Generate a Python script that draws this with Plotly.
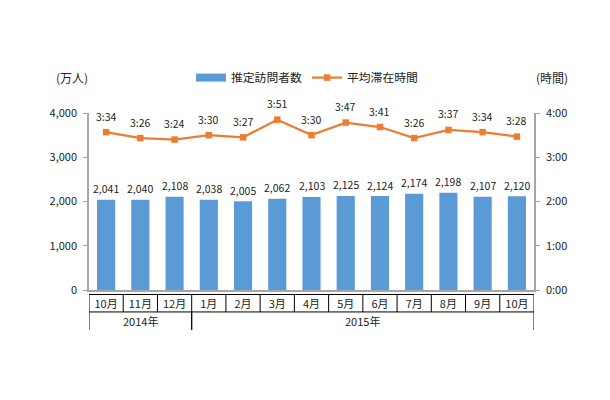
import plotly.graph_objects as go

months = ["10月", "11月", "12月", "1月", "2月", "3月", "4月", "5月", "6月", "7月", "8月", "9月", "10月"]
visitors = [2041, 2040, 2108, 2038, 2005, 2062, 2103, 2125, 2124, 2174, 2198, 2107, 2120]
stay = ["3:34", "3:26", "3:24", "3:30", "3:27", "3:51", "3:30", "3:47", "3:41", "3:26", "3:37", "3:34", "3:28"]
years = [("2014年", 0, 3), ("2015年", 3, 13)]
left_ticks = [0, 1000, 2000, 3000, 4000]
right_ticks = ["0:00", "1:00", "2:00", "3:00", "4:00"]

FONT = "Noto Sans CJK JP"
TXT = "#222222"
BLUE = "#5B9BD5"
ORANGE = "#ED7D31"
AXIS = "#A6A6A6"
PW, PH = 445, 177.5


def minutes(s):
    h, m = s.split(":")
    return int(h) * 60 + int(m)


idx = list(range(len(months)))
stay_min = [minutes(s) for s in stay]

fig = go.Figure()
fig.add_trace(go.Bar(
    x=idx, y=visitors, width=0.53, marker=dict(color=BLUE, line=dict(width=0)),
    showlegend=False,
))
fig.add_trace(go.Scatter(
    x=[None], y=[None], mode="lines", name="推定訪問者数",
    line=dict(color=BLUE, width=8),
))
fig.add_trace(go.Scatter(
    x=idx, y=stay_min, yaxis="y2", mode="lines+markers", name="平均滞在時間",
    line=dict(color=ORANGE, width=2.25),
    marker=dict(color=ORANGE, size=6.5, symbol="square"),
))

annotations = [
    dict(x=i, y=m, xref="x", yref="y2", text=s, showarrow=False, yshift=16,
         font=dict(size=10.5, color=TXT, family=FONT))
    for i, s, m in zip(idx, stay, stay_min)
]
annotations += [
    dict(x=i, y=v, xref="x", yref="y", text=f"{v:,}", showarrow=False, yshift=11,
         font=dict(size=10.5, color=TXT, family=FONT))
    for i, v in zip(idx, visitors)
]
UNIT_Y = (290 - 77) / PH
annotations += [
    dict(x=(72 - 89) / PW, y=UNIT_Y, xref="paper", yref="paper", xanchor="center", yanchor="middle",
         text="(万人)", showarrow=False, font=dict(size=12, color=TXT, family=FONT)),
    dict(x=(552 - 89) / PW, y=UNIT_Y, xref="paper", yref="paper", xanchor="center", yanchor="middle",
         text="(時間)", showarrow=False, font=dict(size=12, color=TXT, family=FONT)),
]

TABLE_TOP = -4.5 / PH
TABLE_MID = -22 / PH
TABLE_BOT = -40 / PH
line = dict(color="#000000", width=1)
shapes = []
for b in range(len(months) + 1):
    shapes.append(dict(type="line", xref="x", yref="paper", x0=b - 0.5, x1=b - 0.5, y0=TABLE_TOP, y1=TABLE_MID, line=line))
for level in (TABLE_TOP, TABLE_MID):
    shapes.append(dict(type="line", xref="x", yref="paper", x0=-0.5, x1=len(months) - 0.5, y0=level, y1=level, line=line))
for label, a, b in years:
    shapes.append(dict(type="line", xref="x", yref="paper", x0=a - 0.5, x1=a - 0.5, y0=TABLE_MID, y1=TABLE_BOT, line=line))
    shapes.append(dict(type="line", xref="x", yref="paper", x0=b - 0.5, x1=b - 0.5, y0=TABLE_MID, y1=TABLE_BOT, line=line))
    annotations.append(dict(x=(a + b - 1) / 2, y=(TABLE_MID + TABLE_BOT) / 2, xref="x", yref="paper", text=label,
                            showarrow=False, yanchor="middle", font=dict(size=11, color=TXT, family=FONT)))

fig.update_layout(
    width=594, height=384, margin=dict(l=81, r=68, t=104.5, b=102, autoexpand=False),
    paper_bgcolor="white", plot_bgcolor="white",
    font=dict(family=FONT, color=TXT, size=11),
    xaxis=dict(range=[-0.5, len(months) - 0.5], tickvals=idx, ticktext=months, showgrid=False, zeroline=False,
               showline=True, linecolor=AXIS, linewidth=1.5, ticks="", tickangle=0,
               tickfont=dict(size=11, color=TXT, family=FONT), ticklabelstandoff=3),
    yaxis=dict(range=[0, 4000], tickvals=left_ticks, tickformat=",", showgrid=False, zeroline=False,
               showline=True, linecolor=AXIS, linewidth=1.5, ticks="outside", ticklen=4, tickcolor=AXIS,
               tickfont=dict(size=11, color=TXT, family=FONT), ticklabelstandoff=4),
    yaxis2=dict(range=[0, 240], overlaying="y", side="right", tickvals=[0, 60, 120, 180, 240], ticktext=right_ticks,
                showgrid=False, zeroline=False, showline=True, linecolor=AXIS, linewidth=1.5,
                ticks="outside", ticklen=4, tickcolor=AXIS, tickfont=dict(size=11, color=TXT, family=FONT),
                ticklabelstandoff=4),
    legend=dict(orientation="h", x=(191 - 89) / PW, xanchor="left",
                y=UNIT_Y, yanchor="middle", bgcolor="rgba(0,0,0,0)",
                font=dict(size=11.8, color=TXT, family=FONT), itemwidth=30, traceorder="normal"),
    annotations=annotations, shapes=shapes,
)
fig.write_html("out.html")
